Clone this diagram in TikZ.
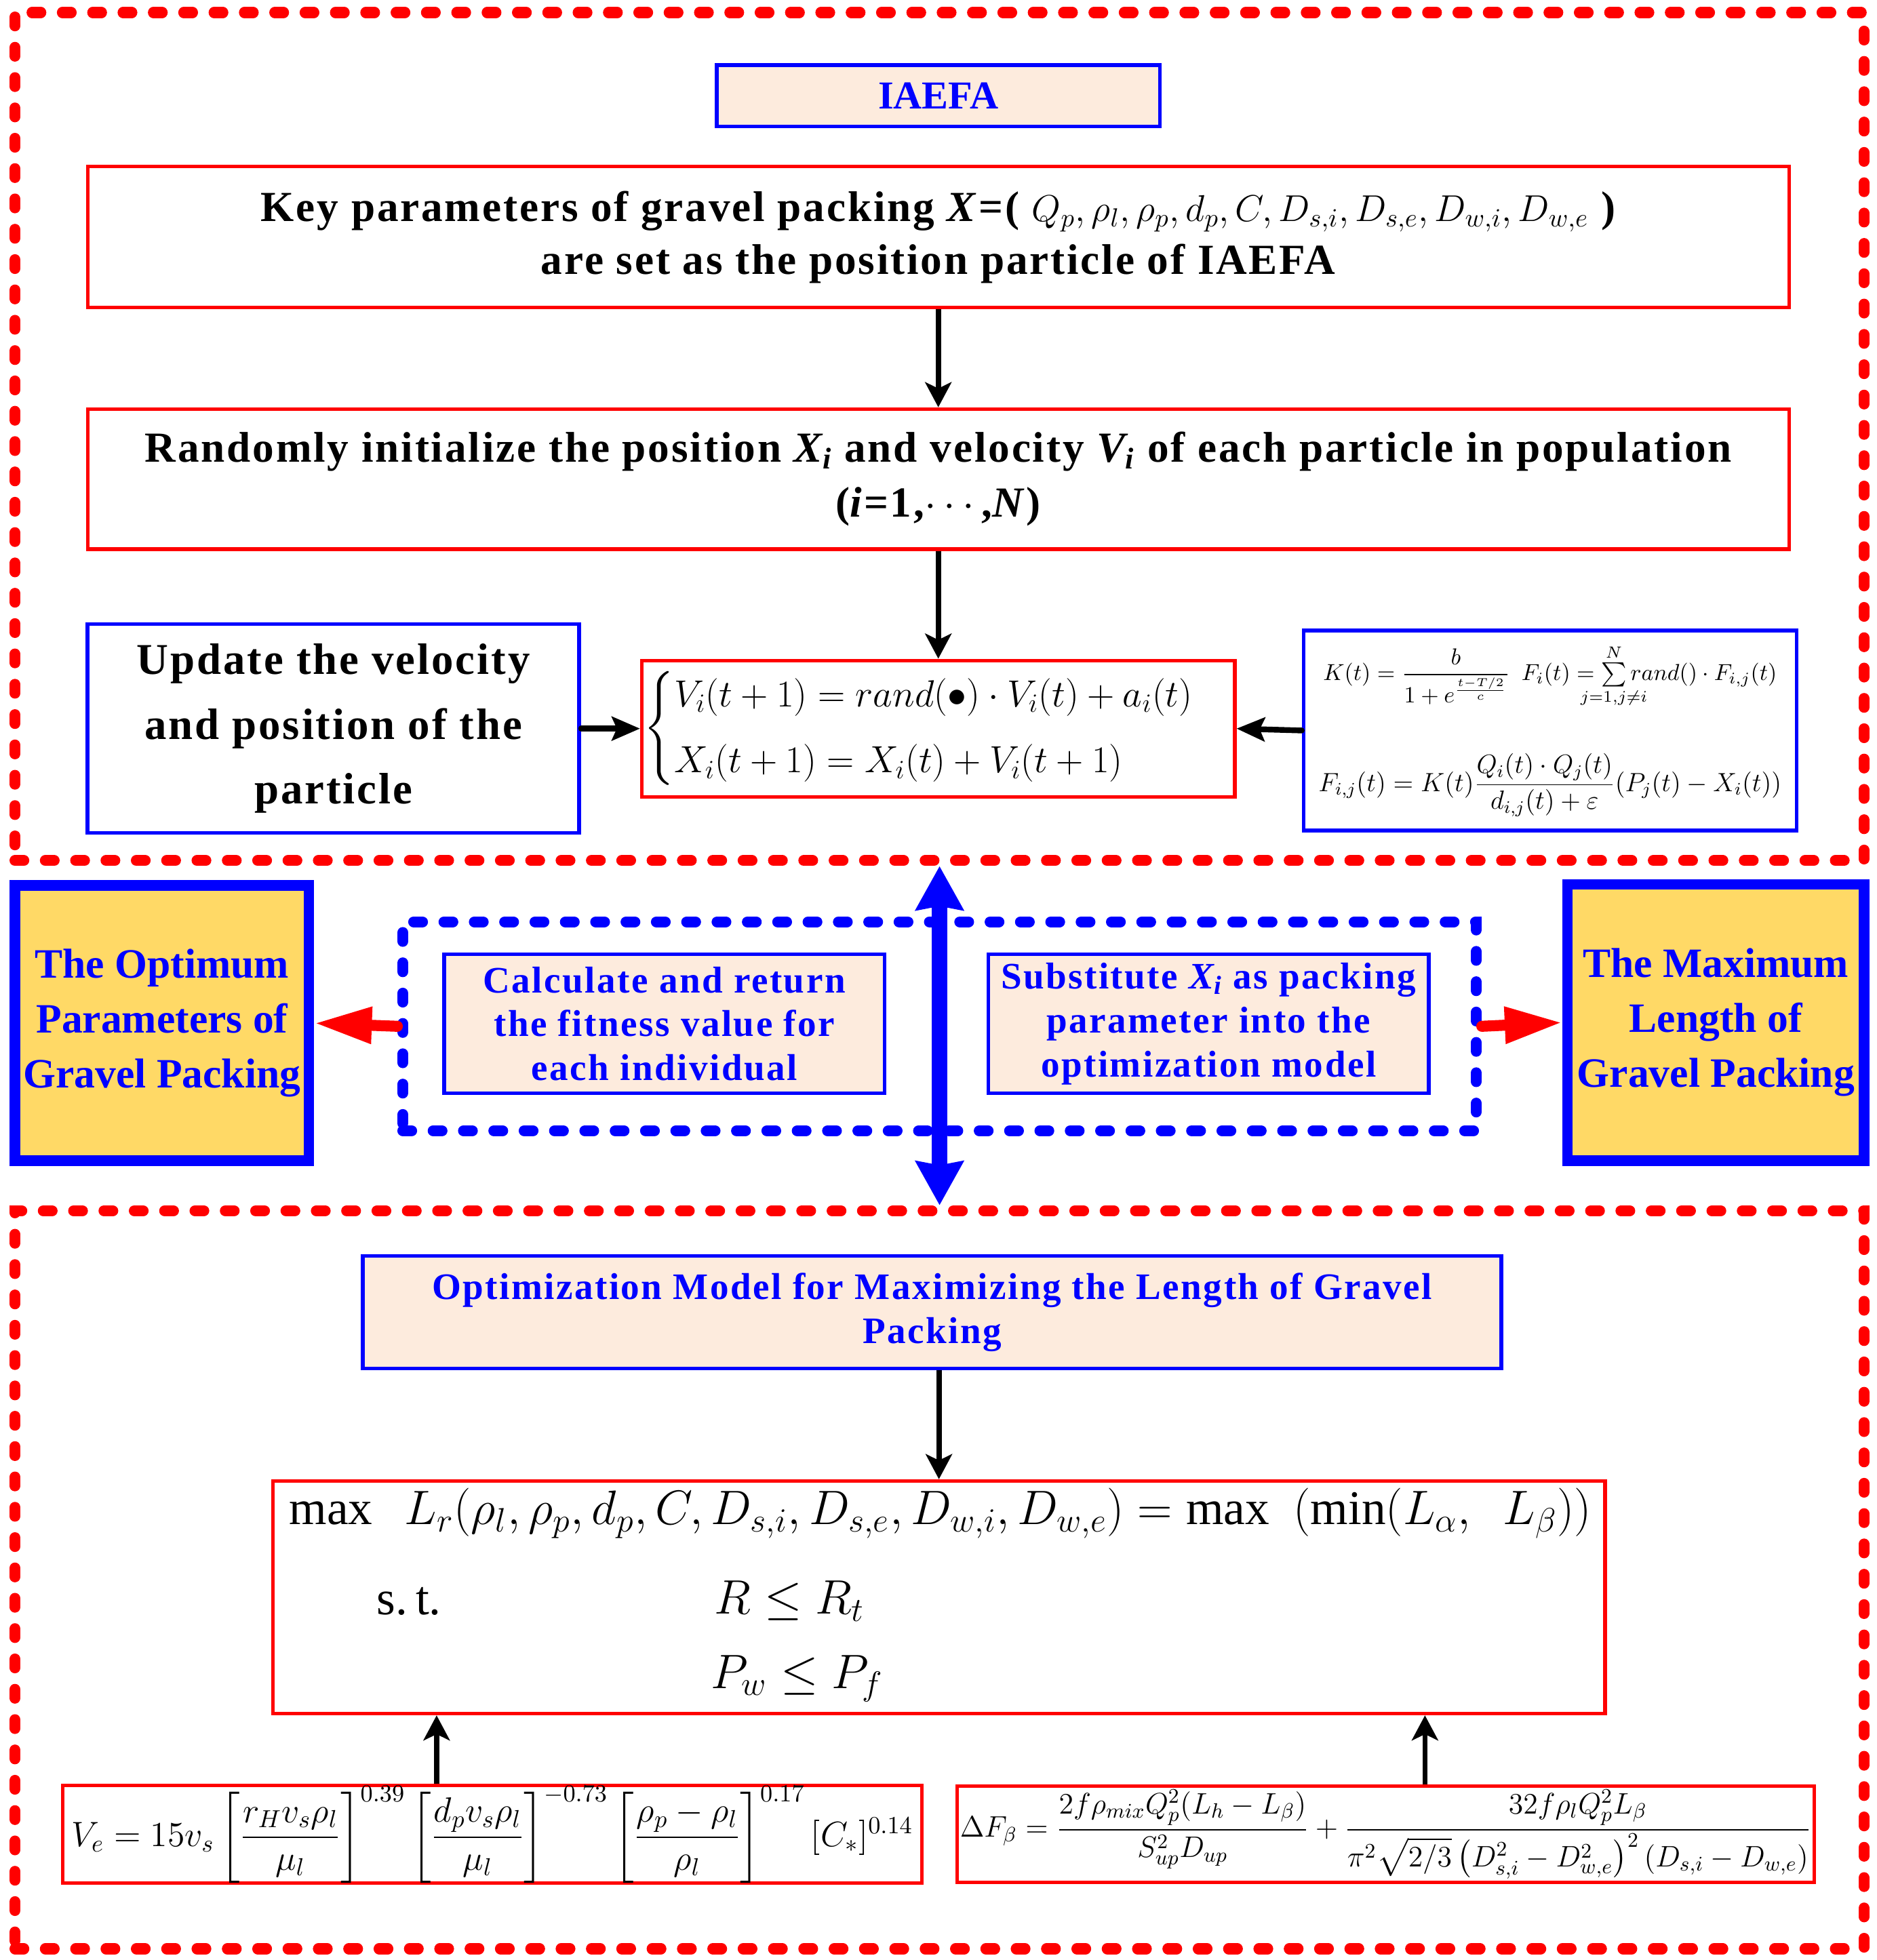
\RequirePackage{fix-cm}
\documentclass[tikz,border=0pt]{standalone}
\usepackage{amsmath}
\usepackage{mathtools}
\usepackage{fontspec}
\setmainfont{Liberation Serif}
\newfontfamily\spacedfont{Liberation Serif}[LetterSpace=4.5]
\usetikzlibrary{arrows.meta}
\definecolor{peach}{RGB}{253,235,221}
\definecolor{gold}{RGB}{255,217,102}

\begin{document}
\begin{tikzpicture}[
  redframe/.style={draw=red,line width=5pt,dash pattern=on 4pt off 9.8pt,line cap=round},
  blueframe/.style={draw=blue,line width=5pt,dash pattern=on 4pt off 9.8pt,line cap=round},
  redbox/.style={draw=red,line width=1.6pt,align=center,inner sep=0pt},
  bluebox/.style={draw=blue,line width=1.7pt,align=center,inner sep=0pt},
  peachbox/.style={draw=blue,line width=1.7pt,fill=peach,text=blue,align=center,inner sep=0pt},
  goldbox/.style={draw=blue,line width=4.8pt,fill=gold,text=blue,align=center,inner sep=0pt,
    font=\fontsize{19}{25}\selectfont\bfseries},
  arr/.style={-{Stealth[length=0.4cm,width=0.42cm,inset=0.1cm]},line width=2.4pt},
  thickarr/.style={-{Stealth[length=0.45cm,width=0.38cm,inset=0.08cm]},line width=2.6pt,line cap=round},
  fatred/.style={-{Triangle[length=0.92cm,width=0.55cm]},line width=5pt,red,line cap=round},
  dblue/.style={{Stealth[length=0.7cm,width=0.75cm,inset=0.06cm]}-{Stealth[length=0.7cm,width=0.75cm,inset=0.06cm]},line width=7pt,blue}
]
\useasboundingbox (0,0) rectangle (30,-31.34);

% upper part: IAEFA
\node[redframe,minimum width=29.56cm,minimum height=13.56cm](iaefaframe) at (15.02,-6.98) {};
\node[peachbox,minimum width=7.08cm,minimum height=0.98cm,font=\fontsize{18}{22}\selectfont\bfseries](iaefa) at (15,-1.53) {IAEFA};
\node[redbox,minimum width=27.2cm,minimum height=2.26cm,font=\fontsize{19.5}{24}\spacedfont\bfseries](keypar) at (15,-3.79)
  {Key parameters of gravel packing \textit{X}=( {\fontsize{17}{20}\selectfont$Q_p,\rho_l,\rho_p,d_p,C,D_{s,i},D_{s,e},D_{w,i},D_{w,e}$} )\\are set as the position particle of IAEFA};
\node[redbox,minimum width=27.2cm,minimum height=2.24cm,font=\fontsize{19.5}{25}\spacedfont\bfseries](init) at (15,-7.66)
  {Randomly initialize the position \textit{X\textsubscript{i}} and velocity \textit{V\textsubscript{i}} of each particle in population\\(\textit{i}=1,$\cdots$,\textit{N})};
\node[bluebox,minimum width=7.86cm,minimum height=3.34cm,font=\fontsize{20}{29.5}\spacedfont\bfseries](update) at (5.33,-11.65)
  {Update the velocity\\and position of the\\particle};
\node[redbox,minimum width=9.48cm,minimum height=2.18cm,font=\fontsize{17.2}{21}\selectfont](eqs) at (15,-11.65)
  {$\begin{cases}V_i(t+1)=rand(\bullet)\cdot V_i(t)+a_i(t)\\[5pt]X_i(t+1)=X_i(t)+V_i(t+1)\end{cases}$};
\node[bluebox,minimum width=7.88cm,minimum height=3.2cm,font=\fontsize{10.5}{13}\selectfont](force) at (24.78,-11.68)
  {$K(t)=\dfrac{b}{1+e^{\frac{t-T/2}{c}}}\enskip F_i(t)=\sum\limits_{\mathclap{j=1,j\neq i}}^{N} rand()\cdot F_{i,j}(t)$\\[20pt]
   \fontsize{12}{14}\selectfont$F_{i,j}(t)=K(t)\dfrac{Q_i(t)\cdot Q_j(t)}{d_{i,j}(t)+\varepsilon}(P_j(t)-X_i(t))$};

\draw[arr] (keypar) -- (init);
\draw[arr] (init) -- (eqs);
\draw[thickarr] (update) -- (eqs);
\draw[thickarr] (force.west) -- (eqs.east);

% middle part
\node[goldbox,minimum width=4.7cm,minimum height=4.4cm](optimum) at (2.59,-16.36) {The Optimum\\Parameters of\\Gravel Packing};
\node[goldbox,minimum width=4.74cm,minimum height=4.42cm](maximum) at (27.43,-16.35) {The Maximum\\Length of\\Gravel Packing};
\node[blueframe,minimum width=17.16cm,minimum height=3.34cm](loop) at (15.02,-16.41) {};
\node[peachbox,minimum width=7.04cm,minimum height=2.22cm,font=\fontsize{17}{20}\spacedfont\bfseries](fitness) at (10.62,-16.37)
  {Calculate and return\\the fitness value for\\each individual};
\node[peachbox,minimum width=7.04cm,minimum height=2.22cm,font=\fontsize{17}{20}\spacedfont\bfseries](subst) at (19.32,-16.37)
  {Substitute \textit{X\textsubscript{i}} as packing\\parameter into the\\optimization model};

% lower part: model
\node[redframe,minimum width=29.56cm,minimum height=11.8cm](modelframe) at (15.02,-25.26) {};
\node[peachbox,minimum width=18.2cm,minimum height=1.8cm,font=\fontsize{17}{20}\spacedfont\bfseries](model) at (14.9,-20.98)
  {Optimization Model for Maximizing the Length of Gravel\\Packing};
\node[redbox,minimum width=21.3cm,minimum height=3.72cm](maxbox) at (15.01,-25.54) {};
\node[anchor=west,font=\fontsize{22}{26}\selectfont](objective) at (4.5,-24.2)
  {$\max\ \ L_r(\rho_l,\rho_p,d_p,C,D_{s,i},D_{s,e},D_{w,i},D_{w,e})=\max\ \ (\min(L_\alpha,\ \ L_\beta))$};
\node[anchor=west,font=\fontsize{22}{26}\selectfont](st) at (5.9,-25.6) {s.\,t.};
\node[anchor=west,font=\fontsize{22}{26}\selectfont](cons1) at (11.3,-25.6) {$R\le R_t$};
\node[anchor=west,font=\fontsize{22}{26}\selectfont](cons2) at (11.24,-26.84) {$P_w\le P_f$};
\node[redbox,minimum width=13.74cm,minimum height=1.54cm,font=\fontsize{16}{19}\selectfont](vebox) at (7.87,-29.33)
  {$V_e=15v_s\left[\dfrac{r_H v_s\rho_l}{\mu_l}\right]^{0.39}\left[\dfrac{d_p v_s\rho_l}{\mu_l}\right]^{-0.73}\left[\dfrac{\rho_p-\rho_l}{\rho_l}\right]^{0.17}[C_*]^{0.14}$};
\node[redbox,minimum width=13.7cm,minimum height=1.54cm,font=\fontsize{13.5}{16}\selectfont](dfbox) at (22.15,-29.33)
  {$\Delta F_\beta=\dfrac{2f\rho_{mix}Q_p^2(L_h-L_\beta)}{S_{up}^2D_{up}}+\dfrac{32f\rho_lQ_p^2L_\beta}{\pi^2\sqrt{2/3}\left(D_{s,i}^2-D_{w,e}^2\right)^2(D_{s,i}-D_{w,e})}$};
\coordinate (veup) at (6.98,0);
\coordinate (dfup) at (22.78,0);

\draw[dblue] (iaefaframe.south) -- (modelframe.north);
\draw[fatred] (loop.west) -- (optimum.east);
\draw[fatred] (loop.east) -- (maximum.west);
\draw[arr] (model.south -| maxbox) -- (maxbox.north);
\draw[arr] (vebox.north -| veup) -- (maxbox.south -| veup);
\draw[arr] (dfbox.north -| dfup) -- (maxbox.south -| dfup);
\end{tikzpicture}
\end{document}
